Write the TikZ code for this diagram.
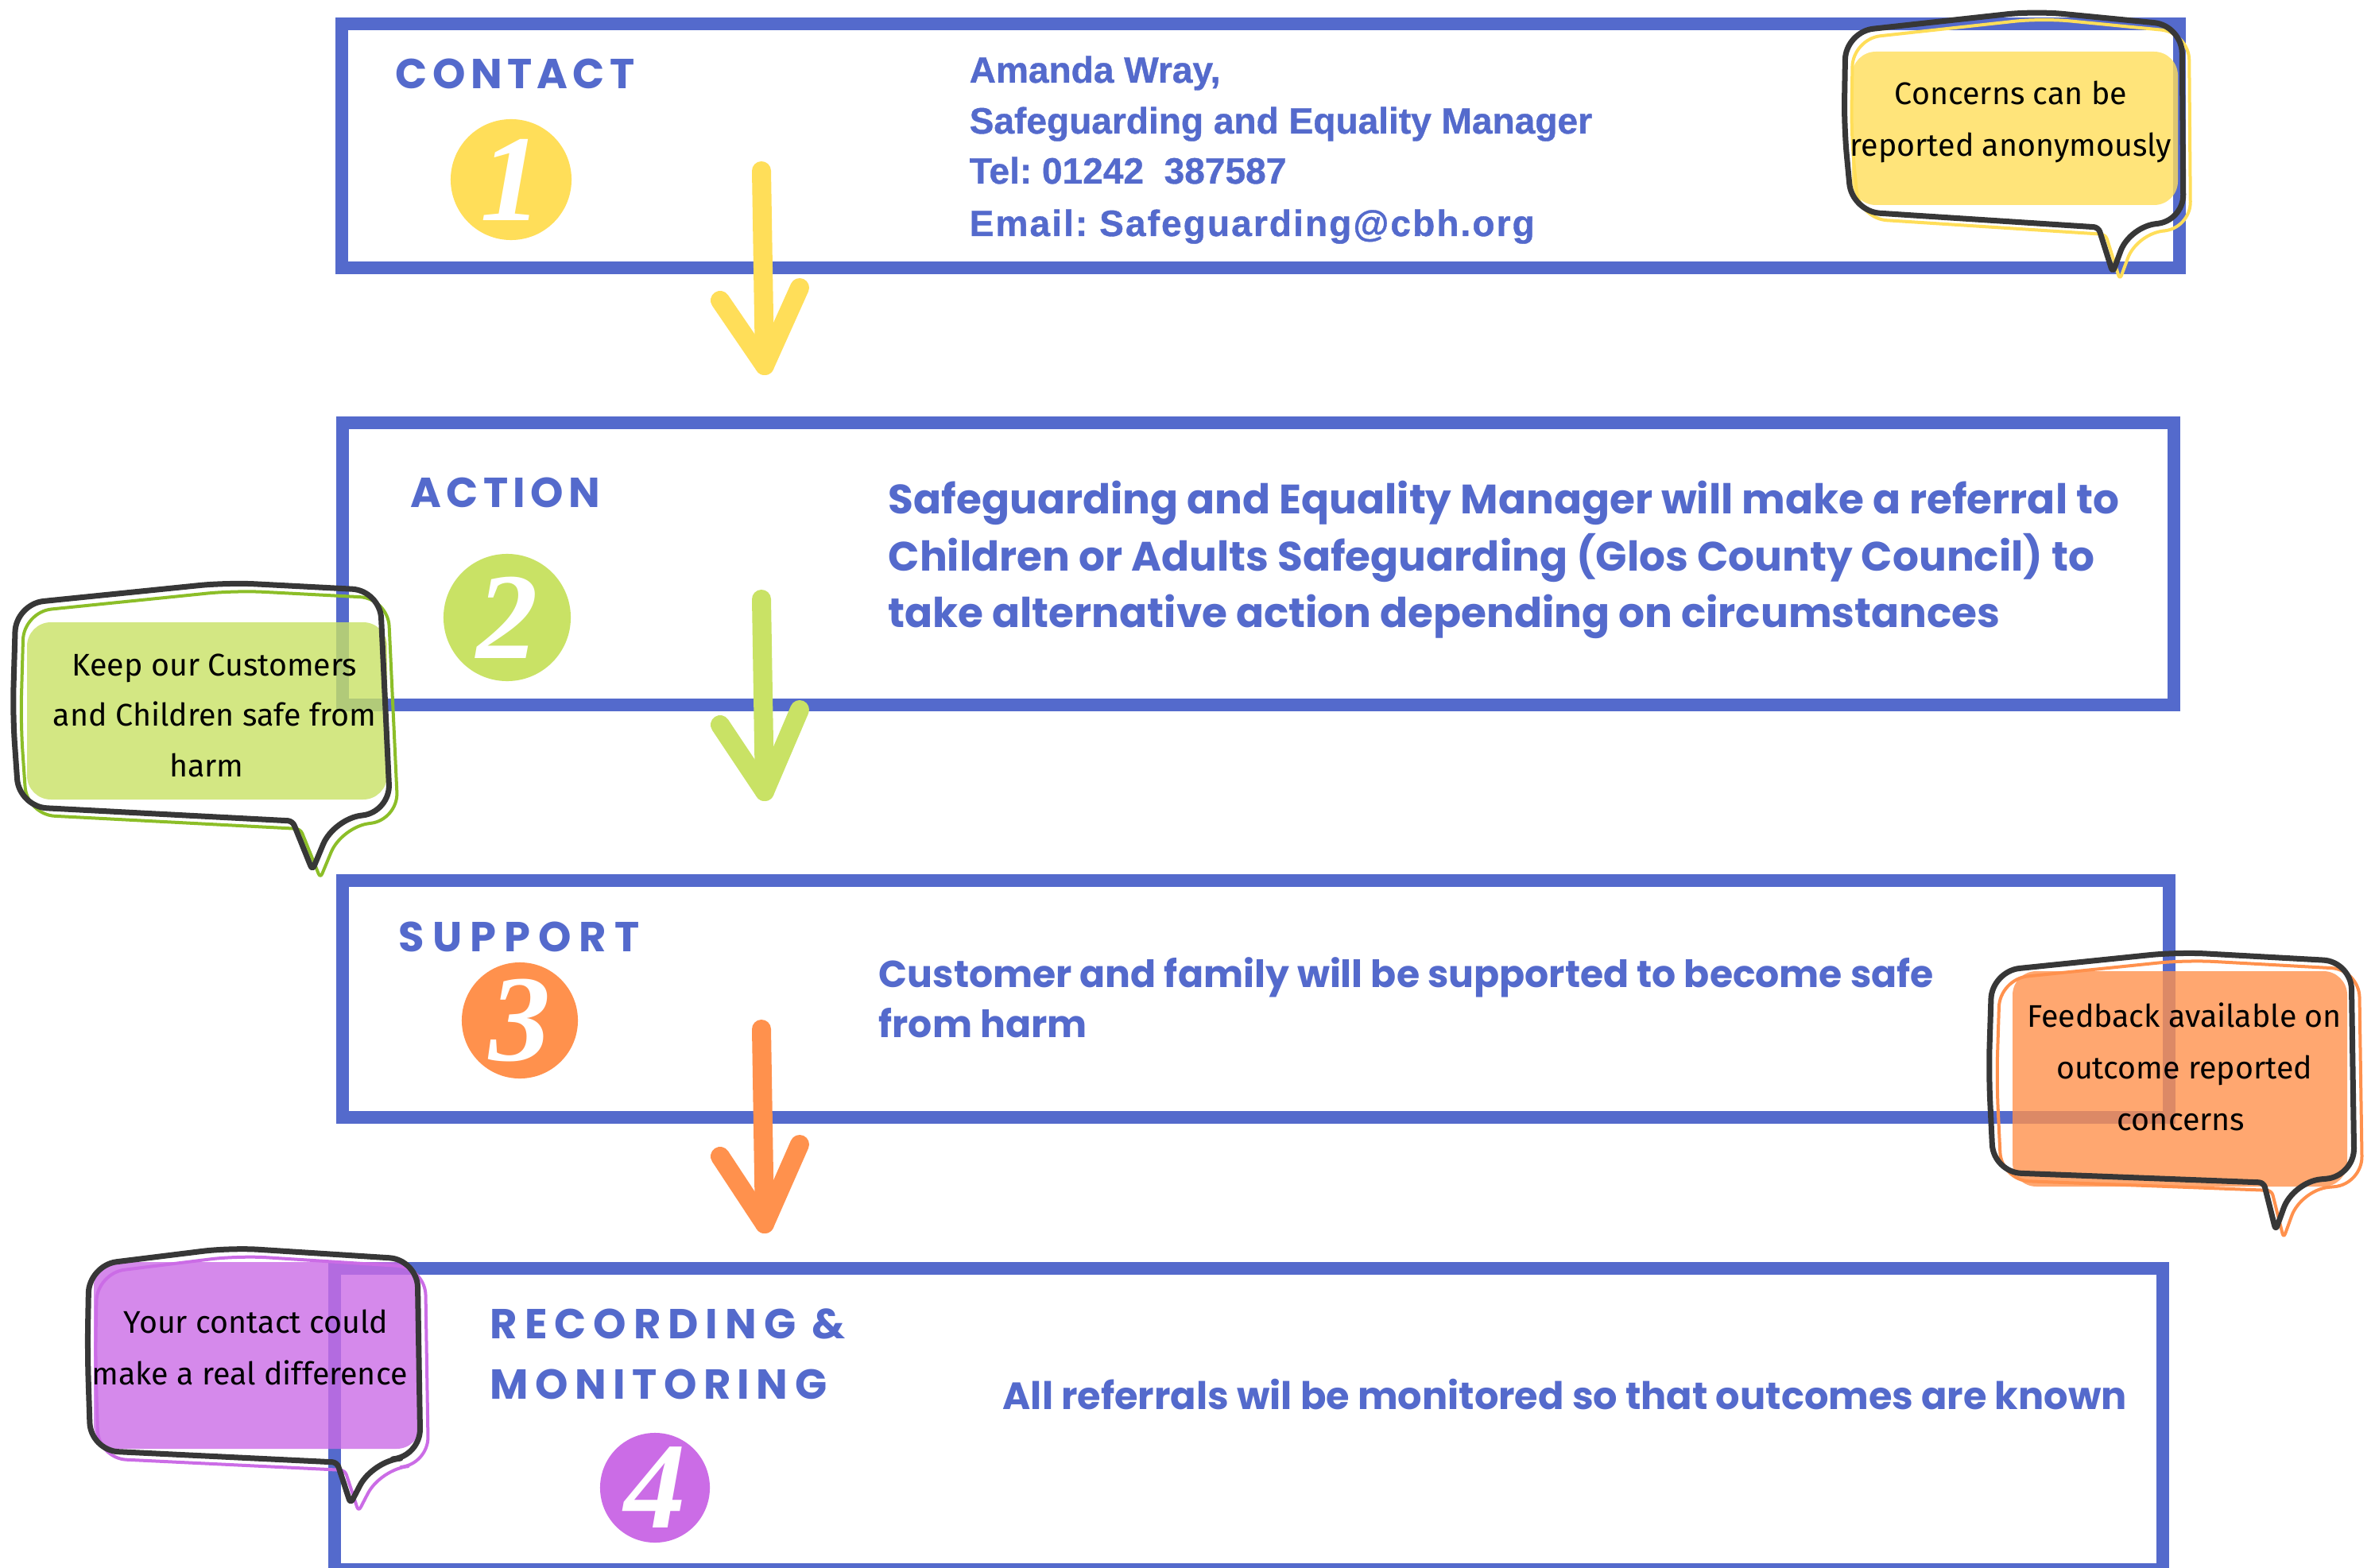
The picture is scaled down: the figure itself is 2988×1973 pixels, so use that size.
\documentclass[tikz,border=0pt]{standalone}
\usepackage{fontspec}
\setmainfont{Liberation Sans}
\newfontfamily\contactfont{Liberation Sans}[FakeBold=0.8]
\newfontfamily\headfont{Poppins}[LetterSpace=12]
\newfontfamily\bodyfont{Poppins}
\newfontfamily\bubfont{Fira Sans}
\newfontfamily\numfont{Liberation Serif}
\frenchspacing
\definecolor{bordblue}{RGB}{84,106,204}
\definecolor{cyel}{RGB}{255,222,89}
\definecolor{cgrn}{RGB}{201,226,101}
\definecolor{corg}{RGB}{255,145,77}
\definecolor{cpur}{RGB}{203,108,230}
\definecolor{cgrnline}{RGB}{140,190,40}
\definecolor{ink}{RGB}{55,55,55}
\newcommand\bubA{(2320,160) -- (2322,40) -- (2560,14) -- (2745,32) -- (2747,280) -- (2680,283) [rounded corners=0.06cm] -- (2658,343) -- (2640,286) [rounded corners=0.35cm] -- (2330,266) -- cycle}
\newcommand\bubB{(16,900) -- (20,760) -- (286,733) -- (478,743) -- (491,1022) -- (420,1030) [rounded corners=0.06cm] -- (393,1095) -- (368,1033) [rounded corners=0.35cm] -- (24,1015) -- cycle}
\newcommand\bubC{(2502,1350) -- (2506,1222) -- (2740,1198) -- (2958,1210) -- (2962,1480) -- (2885,1487) [rounded corners=0.06cm] -- (2863,1548) -- (2848,1488) [rounded corners=0.35cm] -- (2508,1475) -- cycle}
\newcommand\bubD{(110,1700) -- (112,1592) -- (290,1570) -- (525,1585) -- (529,1833) -- (469,1838) [rounded corners=0.06cm] -- (441,1892) -- (424,1840) [rounded corners=0.35cm] -- (114,1825) -- cycle}
\begin{document}
\begin{tikzpicture}[x=0.01cm,y=-0.01cm,
  box/.style={draw=bordblue, line width=0.16cm},
  head/.style={font=\headfont\bfseries\fontsize{15}{18}\selectfont, text=bordblue, anchor=base west, inner sep=0pt},
  ctext/.style={font=\contactfont\bfseries\fontsize{13.1}{16}\selectfont, text=bordblue, anchor=base west, inner sep=0pt},
  btext/.style={font=\bodyfont\bfseries\fontsize{13.45}{16}\selectfont, text=bordblue, anchor=base west, inner sep=0pt},
  atext/.style={btext, font=\bodyfont\bfseries\fontsize{14.7}{17}\selectfont},
  rtext/.style={btext, font=\bodyfont\bfseries\fontsize{13.6}{16}\selectfont},
  bub/.style={font=\bubfont\fontsize{11.2}{14}\selectfont, text=black, anchor=base, inner sep=0pt},
  num/.style={circle, inner sep=0pt, text=white, font=\numfont\bfseries\itshape\fontsize{44}{44}\selectfont},
  arrowline/.style={line width=0.24cm, line cap=round, line join=round},
  inkline/.style={draw=ink, line width=0.07cm, line join=round, rounded corners=0.35cm},
  colline/.style={line width=0.04cm, line join=round, rounded corners=0.35cm},
  bubfill/.style={fill opacity=0.8, rounded corners=0.3cm}]
\useasboundingbox (0,0) rectangle (2988,1973);
\fill[white] (0,0) rectangle (2988,1973);
% boxes
\draw[box] (430,30) rectangle (2742,337);
\draw[box] (431,532) rectangle (2735,887);
\draw[box] (431,1108) rectangle (2729,1406);
\draw[box] (421,1596) rectangle (2721,1975);
% headings
\node[head] (h1) at (497,112) {CONTACT};
\node[head] (h2) at (516,638) {ACTION};
\node[head] (h3) at (501,1197) {\addfontfeature{LetterSpace=19}SUPPORT};
\node[head] (h4a) at (616,1684) {\addfontfeature{LetterSpace=17}RECORDING \&};
\node[head] (h4b) at (616,1760) {\addfontfeature{LetterSpace=16}MONITORING};
% number circles
\node[num, fill=cyel, minimum size=1.52cm] (n1) at (643,226) {1};
\node[num, fill=cgrn, minimum size=1.60cm] (n2) at (638,777) {2};
\node[num, fill=corg, minimum size=1.46cm] (n3) at (654,1284) {3};
\node[num, fill=cpur, minimum size=1.38cm] (n4) at (824,1872) {4};
% contact text
\node[ctext] (c1) at (1219,104) {Amanda Wray,};
\node[ctext] (c2) at (1219,168) {Safeguarding and Equality Manager};
\node[ctext] (c3) at (1219,231) {Tel: 01242\ \ 387587};
\node[ctext] (c4) at (1219,297) {\addfontfeature{LetterSpace=4.5}Email: Safeguarding@cbh.org};
% action text
\node[atext] (a1) at (1117,646) {Safeguarding and Equality Manager will make a referral to};
\node[atext] (a2) at (1117,718) {Children or Adults Safeguarding (Glos County Council) to};
\node[atext] (a3) at (1117,789) {take alternative action depending on circumstances};
% support text
\node[btext] (s1) at (1105,1242) {Customer and family will be supported to become safe};
\node[btext] (s2) at (1105,1305) {from harm};
% recording text
\node[rtext] (r1) at (1261,1773) {All referrals wil be monitored so that outcomes are known};
% arrows
\coordinate (y0) at (958,215); \coordinate (y1) at (962,460);
\coordinate (yl) at (906,378); \coordinate (yr) at (1006,362);
\draw[arrowline, draw=cyel] (y0) -- (y1);
\draw[arrowline, draw=cyel] (yl) -- (y1) -- (yr);
\coordinate (g0) at (958,754); \coordinate (g1) at (962,996);
\coordinate (gl) at (906,912); \coordinate (gr) at (1006,893);
\draw[arrowline, draw=cgrn] (g0) -- (g1);
\draw[arrowline, draw=cgrn] (gl) -- (g1) -- (gr);
\coordinate (o0) at (958,1295); \coordinate (o1) at (962,1540);
\coordinate (ol) at (906,1455); \coordinate (or) at (1006,1440);
\draw[arrowline, draw=corg] (o0) -- (o1);
\draw[arrowline, draw=corg] (ol) -- (o1) -- (or);
% callout yellow
\fill[bubfill, fill=cyel] (2330,65) rectangle (2740,258);
\draw[colline, draw=cyel, shift={(9,9)}] \bubA;
\draw[inkline] \bubA;
\node[bub] (t1a) at (2530,132) {Concerns can be};
\node[bub] (t1b) at (2530,197) {reported anonymously};
% callout green
\fill[bubfill, fill=cgrn] (34,783) rectangle (487,1006);
\draw[colline, draw=cgrnline, shift={(10,10)}] \bubB;
\draw[inkline] \bubB;
\node[bub] (t2a) at (270,850) {Keep our Customers};
\node[bub] (t2b) at (270,913) {and Children safe from};
\node[bub] (t2c) at (260,977) {harm};
% callout orange
\fill[bubfill, fill=corg] (2532,1222) rectangle (2953,1493);
\draw[colline, draw=corg, shift={(10,10)}] \bubC;
\draw[inkline] \bubC;
\node[bub] (t3a) at (2748,1292) {Feedback available on};
\node[bub] (t3b) at (2748,1357) {outcome reported};
\node[bub] (t3c) at (2744,1422) {concerns};
% callout purple
\fill[bubfill, fill=cpur] (118,1588) rectangle (529,1823);
\draw[colline, draw=cpur, shift={(10,10)}] \bubD;
\draw[inkline] \bubD;
\begin{scope}
\clip (119,1600) rectangle (560,1800);
\node[bub] (t4a) at (322,1677) {Your contact could};
\node[bub] (t4b) at (314,1742) {make a real difference};
\end{scope}
\end{tikzpicture}
\end{document}
